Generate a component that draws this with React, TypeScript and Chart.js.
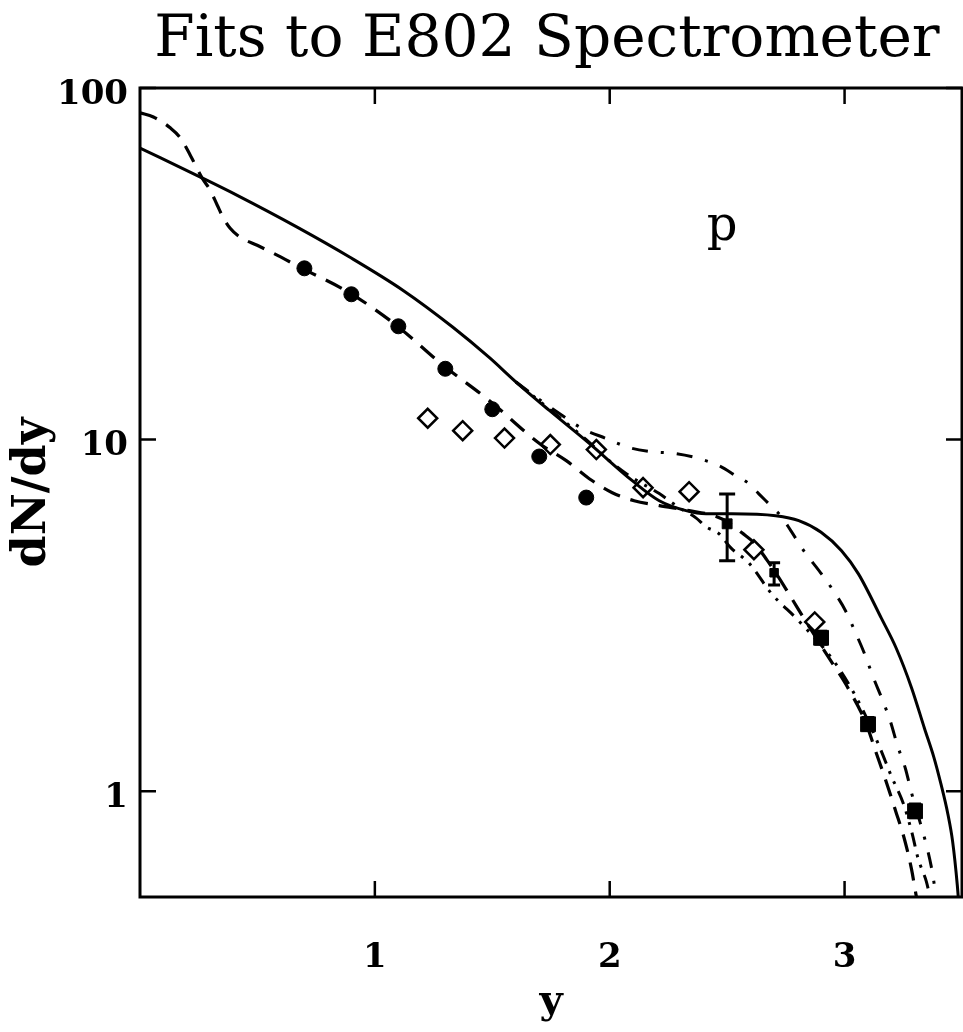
import React, { useEffect, useRef } from 'react';
import { Chart, registerables } from 'chart.js';

Chart.register(...registerables);

// ---------- texts & ticks ----------
const TITLE = 'Fits to E802 Spectrometer';
const PARTICLE_LABEL = 'p';
const X_TITLE = 'y';
const Y_TITLE = 'dN/dy';
const X_TICKS = [1, 2, 3];
const Y_TICKS = [1, 10, 100];
const X_MIN = 0;
const X_MAX = 3.5;
const Y_MIN = 0.5;
const Y_MAX = 100;

// ---------- data points ----------
const circleX = [0.7, 0.9, 1.1, 1.3, 1.5, 1.7, 1.9];
const circleY = [30.7, 25.9, 21.0, 15.9, 12.2, 8.95, 6.84];

const diamondX = [1.225, 1.374, 1.552, 1.747, 1.943, 2.142, 2.338, 2.614, 2.873];
const diamondY = [11.5, 10.6, 10.1, 9.68, 9.37, 7.3, 7.11, 4.86, 3.03];

const squareX = [2.5, 2.7, 2.9, 3.1, 3.3];
const squareY = [5.76, 4.18, 2.73, 1.55, 0.877];
const squareErrLow = [4.52, 3.86, 2.62, 1.49, 0.84];
const squareErrHigh = [7.0, 4.46, 2.85, 1.62, 0.92];

// ---------- model curves ----------
const solidX = [0, 0.257, 0.414, 0.669, 0.894, 1.119, 1.331, 1.488, 1.6, 1.743, 1.913, 2.096, 2.211, 2.325, 2.41, 2.52, 2.707, 2.805, 2.9, 2.987, 3.059, 3.157, 3.22, 3.285, 3.34, 3.38, 3.41, 3.44, 3.46, 3.48, 3.495];
const solidY = [67.5, 55.8, 49.5, 40.2, 33.0, 26.6, 20.9, 17.1, 14.6, 12.1, 9.75, 7.64, 6.7, 6.28, 6.15, 6.15, 6.07, 5.88, 5.45, 4.83, 4.15, 3.1, 2.55, 1.97, 1.51, 1.25, 1.05, 0.86, 0.72, 0.54, 0.4];

const dashedX = [0, 0.057, 0.13, 0.172, 0.214, 0.265, 0.299, 0.329, 0.355, 0.384, 0.427, 0.499, 0.567, 0.682, 0.894, 1.093, 1.289, 1.488, 1.701, 1.815, 1.913, 2.011, 2.104, 2.211, 2.338, 2.444, 2.507, 2.563, 2.614, 2.669, 2.72, 2.762, 2.847, 2.941, 3.008, 3.093, 3.132, 3.174, 3.217, 3.255, 3.285, 3.306, 3.32];
const dashedY = [85, 82.7, 76.9, 72.1, 64.4, 55.4, 51.2, 46.4, 42.7, 39.9, 37.6, 35.7, 33.9, 30.9, 26.1, 21.1, 16.3, 12.9, 9.75, 8.71, 7.74, 7.06, 6.7, 6.49, 6.28, 6.07, 5.8, 5.43, 5.09, 4.55, 4.05, 3.65, 2.95, 2.35, 2.0, 1.55, 1.3, 1.08, 0.88, 0.73, 0.6, 0.5, 0.45];

const dashDotX = [1.6, 1.7, 1.798, 1.883, 1.985, 2.083, 2.176, 2.282, 2.38, 2.473, 2.537, 2.592, 2.635, 2.686, 2.728, 2.771, 2.826, 2.898, 2.953, 3.004, 3.047, 3.085, 3.123, 3.161, 3.195, 3.225, 3.259, 3.285, 3.314, 3.344, 3.369, 3.391, 3.4];
const dashDotY = [14.6, 13.0, 11.7, 10.75, 10.07, 9.49, 9.24, 9.12, 8.83, 8.38, 7.89, 7.5, 7.01, 6.48, 6.07, 5.51, 4.83, 4.18, 3.71, 3.26, 2.82, 2.46, 2.1, 1.82, 1.58, 1.35, 1.16, 0.99, 0.849, 0.721, 0.611, 0.496, 0.45];

const dashDotDotX = [1.6, 1.75, 1.9, 1.998, 2.053, 2.096, 2.211, 2.296, 2.367, 2.41, 2.465, 2.516, 2.592, 2.69, 2.805, 2.953, 3.059, 3.144, 3.2, 3.251, 3.285, 3.314, 3.348, 3.365, 3.38];
const dashDotDotY = [14.6, 12.1, 10.0, 8.71, 8.16, 7.79, 7.02, 6.4, 5.99, 5.65, 5.4, 4.92, 4.46, 3.64, 3.05, 2.35, 1.8, 1.36, 1.1, 0.92, 0.77, 0.64, 0.554, 0.496, 0.45];

const pts = (xs: number[], ys: number[]) => xs.map((x, i) => ({ x, y: ys[i] }));

const SERIF = '"DejaVu Serif", "Liberation Serif", serif';

const framePlugin = {
  id: 'frame',
  afterDatasetsDraw(chart: any) {
    const { ctx, chartArea: a, scales } = chart;
    const xs = scales.x;
    const ys = scales.y;
    ctx.save();
    ctx.strokeStyle = '#000';
    ctx.fillStyle = '#000';

    // error bars
    ctx.lineWidth = 3;
    ctx.beginPath();
    squareX.forEach((xv, i) => {
      const px = xs.getPixelForValue(xv);
      const lo = ys.getPixelForValue(squareErrLow[i]);
      const hi = ys.getPixelForValue(squareErrHigh[i]);
      const cap = i === 0 ? 8 : 6;
      ctx.moveTo(px, lo);
      ctx.lineTo(px, hi);
      ctx.moveTo(px - cap, lo);
      ctx.lineTo(px + cap, lo);
      ctx.moveTo(px - cap, hi);
      ctx.lineTo(px + cap, hi);
    });
    ctx.stroke();

    // frame
    ctx.lineWidth = 3;
    ctx.strokeRect(a.left, a.top, a.right - a.left, a.bottom - a.top);

    // inward ticks on all four sides
    ctx.lineWidth = 2.5;
    ctx.beginPath();
    X_TICKS.forEach((v) => {
      const px = xs.getPixelForValue(v);
      ctx.moveTo(px, a.bottom);
      ctx.lineTo(px, a.bottom - 16);
      ctx.moveTo(px, a.top);
      ctx.lineTo(px, a.top + 16);
    });
    Y_TICKS.forEach((v) => {
      const py = ys.getPixelForValue(v);
      ctx.moveTo(a.left, py);
      ctx.lineTo(a.left + 16, py);
      ctx.moveTo(a.right, py);
      ctx.lineTo(a.right - 16, py);
    });
    ctx.stroke();

    // title, fitted to the reference width
    ctx.textAlign = 'center';
    ctx.textBaseline = 'alphabetic';
    ctx.font = `100px ${SERIF}`;
    const w100 = ctx.measureText(TITLE).width;
    const titleSize = (100 * 785) / w100;
    ctx.font = `${titleSize.toFixed(1)}px ${SERIF}`;
    ctx.fillText(TITLE, 547, 56);

    // particle label
    ctx.font = `48px ${SERIF}`;
    ctx.fillText(PARTICLE_LABEL, 722, 240);
    ctx.restore();
  },
};

export default function App() {
  const ref = useRef<HTMLCanvasElement | null>(null);

  useEffect(() => {
    if (!ref.current) return;
    const lineBase = {
      type: 'line' as const,
      borderColor: '#000',
      backgroundColor: '#000',
      borderWidth: 3,
      pointRadius: 0,
      fill: false,
      cubicInterpolationMode: 'monotone' as const,
    };
    const chart = new Chart(ref.current, {
      type: 'line',
      data: {
        datasets: [
          {
            label: 'E802 filled circles',
            data: pts(circleX, circleY),
            showLine: false,
            pointStyle: 'circle',
            pointRadius: 7.5,
            pointBorderWidth: 1,
            pointBackgroundColor: '#000',
            pointBorderColor: '#000',
          },
          {
            label: 'E802 squares',
            data: pts(squareX, squareY),
            showLine: false,
            pointStyle: 'rect',
            pointRadius: [7, 6, 10.5, 10.5, 10.5],
            pointBorderWidth: 1,
            pointBackgroundColor: '#000',
            pointBorderColor: '#000',
          },
          {
            label: 'E802 open diamonds',
            data: pts(diamondX, diamondY),
            showLine: false,
            pointStyle: 'rectRot',
            pointRadius: 9.5,
            pointBorderWidth: 2.5,
            pointBackgroundColor: 'rgba(0,0,0,0)',
            pointBorderColor: '#000',
          },
          { ...lineBase, label: 'solid', data: pts(solidX, solidY) },
          { ...lineBase, label: 'dashed', data: pts(dashedX, dashedY), borderDash: [18, 11], borderWidth: 3.2 },
          { ...lineBase, label: 'dash-dot', data: pts(dashDotX, dashDotY), borderDash: [16, 13, 3, 13] },
          { ...lineBase, label: 'dash-dot-dot', data: pts(dashDotDotX, dashDotDotY), borderDash: [14, 8, 3, 8, 3, 8] },
        ],
      },
      options: {
        responsive: false,
        animation: false,
        devicePixelRatio: 1,
        layout: { autoPadding: false, padding: { left: 0, top: 88, right: 1, bottom: 0 } },
        plugins: {
          legend: { display: false },
          tooltip: { enabled: false },
          title: { display: false },
        },
        scales: {
          x: {
            type: 'linear',
            min: X_MIN,
            max: X_MAX,
            afterFit: (s: any) => {
              s.height = 135;
              s.paddingLeft = 0;
              s.paddingRight = 0;
            },
            afterBuildTicks: (s: any) => {
              s.ticks = X_TICKS.map((value) => ({ value }));
            },
            grid: { display: false, drawTicks: false },
            border: { display: false },
            ticks: {
              color: '#000',
              font: { family: SERIF, size: 34, weight: 'bold' },
              padding: 41,
              maxRotation: 0,
              autoSkip: false,
              callback: (v: any) => String(v),
            },
            title: {
              display: true,
              text: X_TITLE,
              color: '#000',
              font: { family: SERIF, size: 40, weight: 'bold' },
              padding: { top: 0, bottom: 5 },
            },
          },
          y: {
            type: 'logarithmic',
            min: Y_MIN,
            max: Y_MAX,
            afterFit: (s: any) => {
              s.width = 140;
              s.paddingTop = 0;
              s.paddingBottom = 0;
            },
            afterBuildTicks: (s: any) => {
              s.ticks = Y_TICKS.map((value) => ({ value }));
            },
            grid: { display: false, drawTicks: false },
            border: { display: false },
            ticks: {
              color: '#000',
              font: { family: SERIF, size: 34, weight: 'bold' },
              padding: 12,
              labelOffset: 7,
              autoSkip: false,
              callback: (v: any) => String(v),
            },
            title: {
              display: true,
              text: Y_TITLE,
              color: '#000',
              font: { family: SERIF, size: 46, weight: 'bold' },
              padding: { top: 5, bottom: 0 },
            },
          },
        },
      },
      plugins: [framePlugin],
    } as any);
    return () => chart.destroy();
  }, []);

  return (
    <div style={{ position: 'absolute', left: 0, top: 0, width: 963, height: 1032, background: '#fff' }}>
      <canvas ref={ref} width={963} height={1032} style={{ width: 963, height: 1032, display: 'block' }} />
    </div>
  );
}
